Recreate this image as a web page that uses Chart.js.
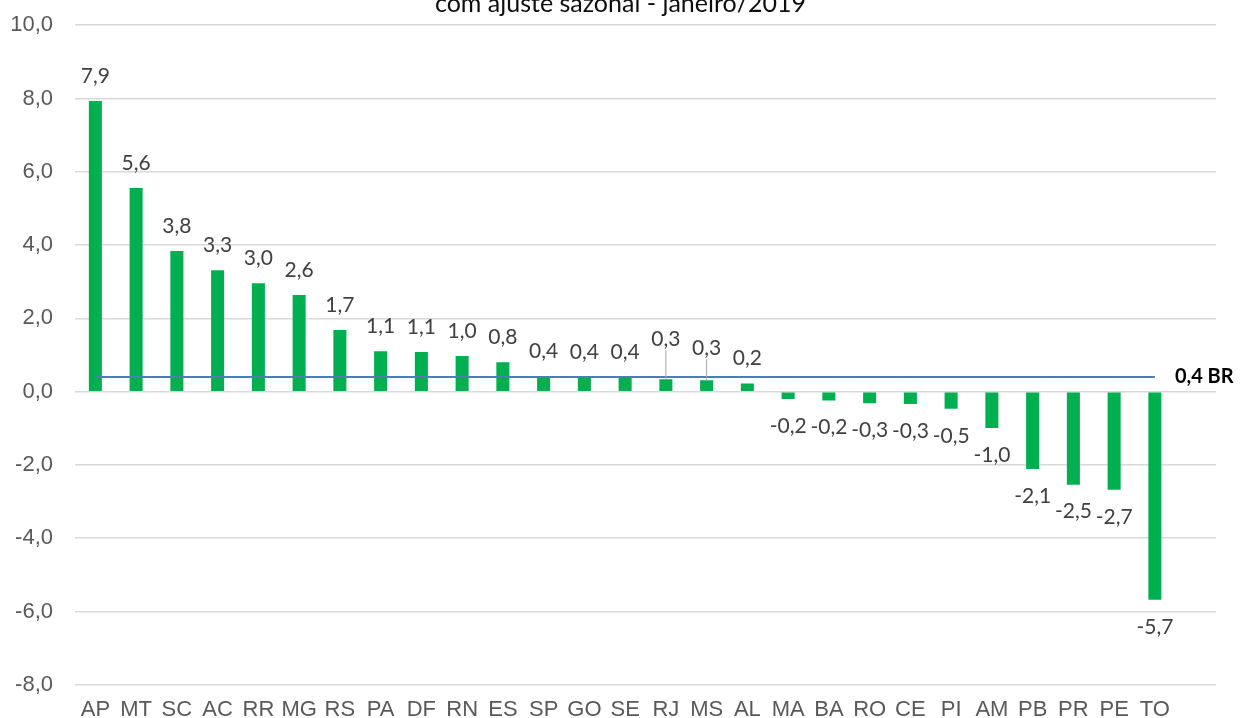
<!DOCTYPE html>
<html>
<head>
<meta charset="utf-8">
<script src="https://cdn.jsdelivr.net/npm/chart.js@4.4.1/dist/chart.umd.min.js"></script>
<style>
  html, body { margin: 0; padding: 0; background: #fff; }
  #wrap { width: 1241px; height: 718px; position: relative; overflow: hidden; }
  /* the original picture is cropped at the top, through the title */
  #c { position: absolute; left: 0; top: -10px; }
</style>
</head>
<body>
<div id="wrap"><canvas id="c" width="1241" height="730"></canvas></div>
<script>
// Variacao mensal por UF, com ajuste sazonal - janeiro/2019
var categories = ['AP','MT','SC','AC','RR','MG','RS','PA','DF','RN','ES','SP','GO','SE','RJ','MS','AL','MA','BA','RO','CE','PI','AM','PB','PR','PE','TO'];
var values = [7.93, 5.56, 3.84, 3.31, 2.96, 2.64, 1.68, 1.1, 1.08, 0.97, 0.8, 0.42, 0.4, 0.38, 0.34, 0.31, 0.22, -0.2, -0.24, -0.32, -0.34, -0.47, -0.99, -2.11, -2.54, -2.68, -5.68];
var brLevel = 0.4;
var brLabel = 'BR';
var titleText = 'com ajuste sazonal - janeiro/2019';
var yTicks = { min: -8, max: 10, step: 2 };

// labels that were dragged up in the original, with a leader line
var labelLift = { RJ: 15, MS: 7 };

function fmt(v) {
  return (Math.round(v * 10) / 10).toFixed(1).replace('.', ',');
}

var extrasPlugin = {
  id: 'extras',
  afterDatasetsDraw: function(chart) {
    var ctx = chart.ctx;
    var meta = chart.getDatasetMeta(0);
    ctx.save();
    ctx.font = '21px Lato, "Noto Sans", sans-serif';
    ctx.fillStyle = '#404040';
    ctx.textAlign = 'center';
    ctx.textBaseline = 'middle';
    meta.data.forEach(function(el, i) {
      var v = values[i];
      var lift = labelLift[categories[i]] || 0;
      var y = v >= 0 ? el.y - 25 - lift : el.y + 27;
      if (lift) {
        ctx.strokeStyle = '#a6a6a6';
        ctx.lineWidth = 1;
        ctx.beginPath();
        ctx.moveTo(el.x, y + 11);
        ctx.lineTo(el.x, el.y);
        ctx.stroke();
      }
      ctx.fillText(fmt(v), el.x, y);
    });

    // BR label at the end of the line
    var lineMeta = chart.getDatasetMeta(1);
    var last = lineMeta.data[lineMeta.data.length - 1];
    ctx.font = 'bold 20px Lato, "Noto Sans", sans-serif';
    ctx.fillStyle = '#000';
    ctx.textAlign = 'left';
    ctx.fillText(fmt(brLevel) + ' ' + brLabel, last.x + 20, last.y);

    // title (top part cut off in the original)
    ctx.font = '25px Lato, "Noto Sans", sans-serif';
    ctx.fillStyle = '#0d0d0d';
    ctx.textAlign = 'center';
    ctx.textBaseline = 'alphabetic';
    ctx.fillText(titleText, chart.width / 2, 22);
    ctx.restore();
  }
};

var ctx = document.getElementById('c').getContext('2d');
new Chart(ctx, {
  type: 'bar',
  data: {
    labels: categories.concat(['']),
    datasets: [{
      data: values,
      backgroundColor: '#00b050',
      borderWidth: 0,
      categoryPercentage: 1,
      barPercentage: 0.32,
      order: 2
    }, {
      type: 'line',
      data: [{ x: categories[0], y: brLevel }, { x: categories[categories.length - 1], y: brLevel }],
      borderColor: '#4a7ebb',
      borderWidth: 2,
      pointRadius: 0,
      fill: false,
      order: 1
    }]
  },
  options: {
    responsive: false,
    animation: false,
    layout: { padding: { top: 14, right: 25, left: 0, bottom: 0 } },
    plugins: {
      legend: { display: false },
      tooltip: { enabled: false }
    },
    scales: {
      x: {
        grid: { display: false, drawTicks: false },
        border: { display: false },
        ticks: {
          color: '#595959',
          padding: 12,
          maxRotation: 0,
          autoSkip: false,
          font: { family: '"Liberation Sans Narrow", "Liberation Sans", Arial, sans-serif', size: 22 }
        },
        afterFit: function(s) { s.height = 34; }
      },
      y: {
        min: yTicks.min,
        max: yTicks.max,
        grid: { color: '#d9d9d9', lineWidth: 1.5, drawTicks: false },
        border: { display: false },
        ticks: {
          stepSize: yTicks.step,
          color: '#595959',
          padding: 22,
          font: { family: '"Liberation Sans", Arial, sans-serif', size: 22 },
          callback: function(v) { return fmt(v); }
        },
        afterFit: function(s) { s.width = 75; }
      }
    }
  },
  plugins: [extrasPlugin]
});
</script>
</body>
</html>
